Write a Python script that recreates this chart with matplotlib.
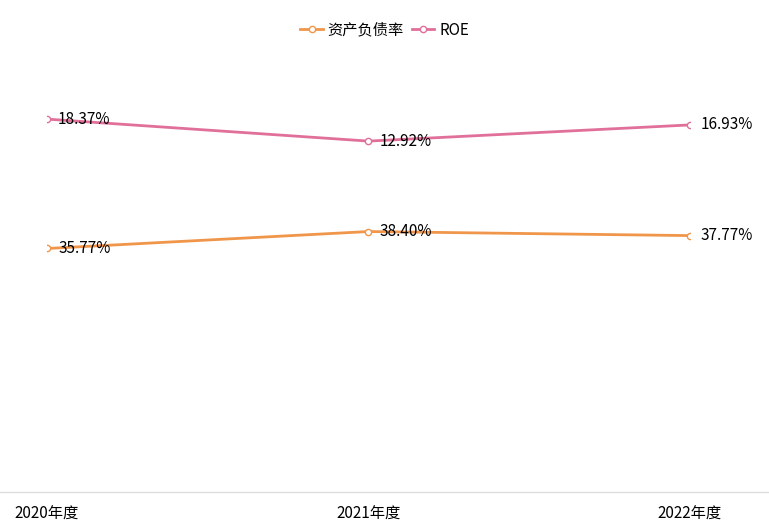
import matplotlib
matplotlib.use("Agg")
import matplotlib.pyplot as plt
from matplotlib.lines import Line2D

plt.rcParams['font.family'] = ['Noto Sans CJK SC', 'DejaVu Sans']

years = ["2020年度", "2021年度", "2022年度"]
debt_ratio = [35.77, 38.40, 37.77]
roe = [18.37, 12.92, 16.93]

fig = plt.figure(figsize=(7.69, 5.30), dpi=100)
ax = fig.add_axes([0.0611, 0.0717, 0.836, 0.815])
ax2 = ax.twinx()
x = list(range(len(years)))

c1, c2 = "#f0964b", "#e0709a"
ax.plot(x, debt_ratio, color=c1, lw=2, marker='o', ms=4.5, mfc='white', mec=c1, label="资产负债率")
ax2.plot(x, roe, color=c2, lw=2, marker='o', ms=4.5, mfc='white', mec=c2, label="ROE")
ax.set_ylim(-2, 65)
ax2.set_ylim(-74, 33)
for xi, v in zip(x, debt_ratio):
    ax.annotate(f"{v:.2f}%", (xi, v), xytext=(8, 0), textcoords='offset points', va='center', fontsize=11)
for xi, v in zip(x, roe):
    ax2.annotate(f"{v:.2f}%", (xi, v), xytext=(8, 0), textcoords='offset points', va='center', fontsize=11)

for a in (ax, ax2):
    for s in a.spines.values():
        s.set_visible(False)
    a.set_yticks([])
ax.set_xlim(0, 2)
ax.set_xticks(x)
ax.set_xticklabels(years, fontsize=11)
ax.tick_params(axis='x', length=0, pad=10)
fig.add_artist(Line2D([0, 1], [0.0717, 0.0717], color="#dddddd", lw=1, transform=fig.transFigure))

handles = [Line2D([], [], color=c1, lw=2, marker='o', ms=4.5, mfc='white', mec=c1),
           Line2D([], [], color=c2, lw=2, marker='o', ms=4.5, mfc='white', mec=c2)]
fig.legend(handles, ["资产负债率", "ROE"], loc='upper center', bbox_to_anchor=(0.5, 0.985),
           ncol=2, frameon=False, fontsize=11, handlelength=1.5, handletextpad=0.3, columnspacing=0.5)
fig.savefig("out.png", dpi=100)
